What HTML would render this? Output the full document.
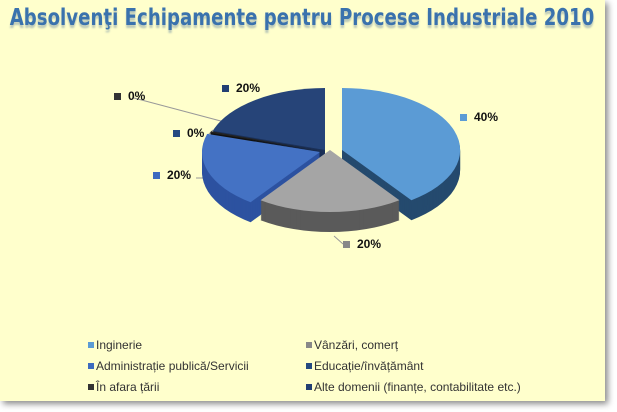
<!DOCTYPE html>
<html><head><meta charset="utf-8"><style>
html,body{margin:0;padding:0;background:#fff;}
#w{position:relative;width:617px;height:412px;overflow:hidden;background:#fff;}
#bg{position:absolute;left:0;top:0;width:605px;height:401px;background:#FFFFCC;box-shadow:3px 3px 6px rgba(0,0,0,0.45);}
.t{position:absolute;left:302px;top:5px;white-space:nowrap;transform:translateX(-50%) scaleX(0.79);font:bold 23px "DejaVu Sans","Liberation Sans",sans-serif;color:#3a72ad;text-shadow:0 3px 2px rgba(60,100,150,0.35);}
.lg{position:absolute;font:12px "Liberation Sans",sans-serif;color:#333;}
.lg i{display:inline-block;width:6px;height:6px;margin-right:2px;vertical-align:1px;}
.lb{position:absolute;font:bold 12px "Liberation Sans",sans-serif;color:#111;}
.lb i{display:inline-block;width:7px;height:7px;margin-right:7px;vertical-align:0px;}
svg{position:absolute;left:0;top:0;}
</style></head><body><div id="w"><div id="bg"></div>
<div class="t">Absolvenţi Echipamente pentru Procese Industriale 2010</div>
<svg id="s" width="617" height="412"></svg>
<div class="lb" style="left:460px;top:110px"><i style="background:#5b9bd5"></i>40%</div>
<div class="lb" style="left:343px;top:237px"><i style="background:#888"></i>20%</div>
<div class="lb" style="left:153px;top:168px"><i style="background:#3d6bbf"></i>20%</div>
<div class="lb" style="left:173px;top:126px"><i style="background:#254a80"></i>0%</div>
<div class="lb" style="left:114px;top:89px"><i style="background:#333"></i>0%</div>
<div class="lb" style="left:222px;top:81px"><i style="background:#223f73"></i>20%</div>
<div class="lg" style="left:88px;top:338px"><i style="background:#5b9bd5"></i>Inginerie</div>
<div class="lg" style="left:306px;top:338px"><i style="background:#888"></i>Vânzări, comerț</div>
<div class="lg" style="left:88px;top:359px"><i style="background:#3d6bbf"></i>Administrație publică/Servicii</div>
<div class="lg" style="left:306px;top:359px"><i style="background:#254a80"></i>Educație/învățământ</div>
<div class="lg" style="left:88px;top:380px"><i style="background:#333"></i>În afara țării</div>
<div class="lg" style="left:306px;top:380px"><i style="background:#223f73"></i>Alte domenii (finanțe, contabilitate etc.)</div>
</div>
<script>
var s=document.getElementById('s'),rx=118,ry=62,d=20,h='';
h+='<polyline points="134,98 232,124 238,127" fill="none" stroke="#999" stroke-width="1"/>';
h+='<polyline points="207,136 213,130" fill="none" stroke="#999"/>';
h+='<polyline points="196,178 208,178" fill="none" stroke="#999"/>';
h+='<polyline points="334,236 343,244" fill="none" stroke="#999"/>';
function pt(cx,cy,a){a=a*Math.PI/180;return [cx+rx*Math.sin(a),cy-ry*Math.cos(a)];}
function sl(cx,cy,a0,a1){var p=pt(cx,cy,a0),q=pt(cx,cy,a1);return 'M'+cx+','+cy+'L'+p[0].toFixed(1)+','+p[1].toFixed(1)+'A'+rx+','+ry+' 0 '+((a1-a0)>180?1:0)+' 1 '+q[0].toFixed(1)+','+q[1].toFixed(1)+'Z';}
function draw(cx,cy,a0,a1,top,side){for(var k=d;k>0;k--)h+='<path d="'+sl(cx,cy+k,a0,a1)+'" fill="'+side+'"/>';h+='<path d="'+sl(cx,cy,a0,a1)+'" fill="'+top+'"/>';}
draw(325,150,288,360,'#264478','#1a3058');
draw(323,151,287,288.5,'#222','#111');
draw(320,152,216,287,'#4472c4','#2d52a0');
draw(342,150,0,144,'#5b9bd5','#254a6e');
draw(330,150,144,216,'#a5a5a5','#5a5a5a');
s.innerHTML=h;
</script></body></html>
